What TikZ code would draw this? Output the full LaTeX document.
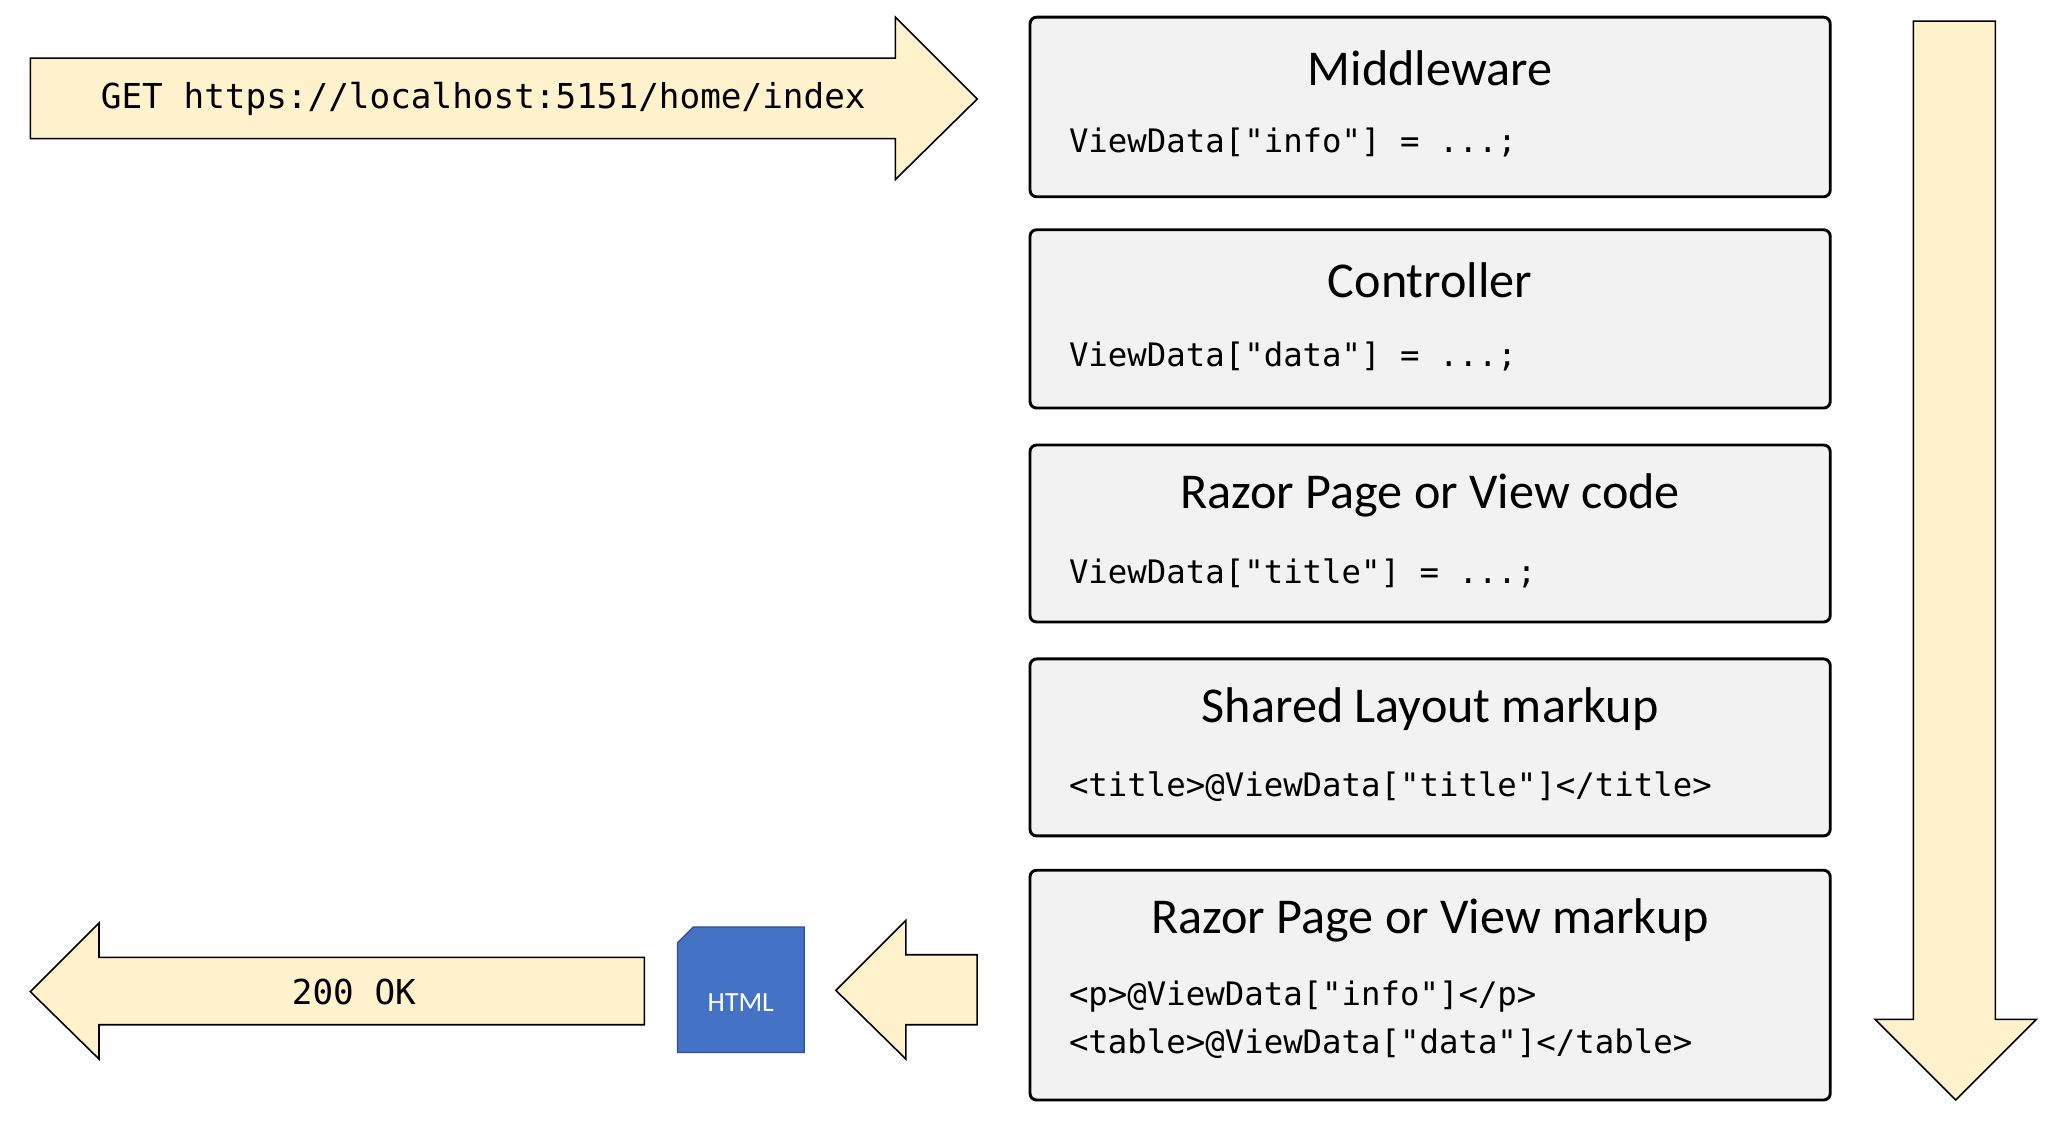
\documentclass[tikz,border=0pt]{standalone}
\usepackage{fontspec}
\setmainfont{Carlito}
\setmonofont{DejaVu Sans Mono}
\begin{document}
\begin{tikzpicture}[x=1pt,y=-1pt,
  arr/.style={fill=yellow!20!orange!8!white,fill=arrowfill,draw=black,line width=1.2pt,line join=miter},
  box/.style={fill=boxgray,draw=black,line width=2.2pt,rounded corners=5pt},
  ttl/.style={font=\fontsize{38}{44}\selectfont,anchor=center},
  code/.style={font=\fontsize{24.5}{36}\ttfamily,anchor=west,align=left}]
\definecolor{arrowfill}{HTML}{FFF2CC}
\definecolor{boxgray}{HTML}{F2F2F2}
\definecolor{htmlblue}{HTML}{4472C4}
\useasboundingbox (0,0) rectangle (1560,849);
% request arrow
\draw[arr] (23,44) -- (678,44) -- (678,13) -- (740,75) -- (678,136) -- (678,105) -- (23,105) -- cycle;
\node[font=\fontsize{26}{30}\ttfamily] (req) at (366,75) {GET https://localhost:5151/home/index};
% down arrow
\draw[arr] (1449,16) -- (1511,16) -- (1511,772) -- (1542,772) -- (1481,833) -- (1420,772) -- (1449,772) -- cycle;
% boxes
\draw[box] (780,13) rectangle (1386,149);
\draw[box] (780,174) rectangle (1386,309);
\draw[box] (780,337) rectangle (1386,471);
\draw[box] (780,499) rectangle (1386,633);
\draw[box] (780,659) rectangle (1386,833);
\node[ttl] (t1) at (1083,52) {Middleware};
\node[code] (c1) at (806,108) {ViewData["info"] = ...;};
\node[ttl] (t2) at (1083,212) {Controller};
\node[code] (c2) at (806,270) {ViewData["data"] = ...;};
\node[ttl] (t3) at (1083,375) {Razor Page or View code};
\node[code] (c3) at (806,434) {ViewData["title"] = ...;};
\node[ttl] (t4) at (1083,537) {Shared Layout markup};
\node[code] (c4) at (806,596) {<title>@ViewData["title"]</title>};
\node[ttl] (t5) at (1083,697) {Razor Page or View markup};
\node[code] (c5) at (806,755) {<p>@ViewData["info"]</p>};
\node[code] (c6) at (806,790) {<table>@ViewData["data"]</table>};
% small left arrow
\draw[arr] (740,723) -- (686,723) -- (686,697) -- (633,750) -- (686,802) -- (686,776) -- (740,776) -- cycle;
% html doc
\draw[fill=htmlblue,draw=htmlblue!70!black,line width=1pt] (525,702) -- (609,702) -- (609,797) -- (513,797) -- (513,714) -- cycle;
\node[text=white,font=\fontsize{21}{24}\selectfont] (html) at (561,759) {HTML};
% response arrow
\draw[arr] (488,725) -- (75,725) -- (75,699) -- (23,751) -- (75,802) -- (75,776) -- (488,776) -- cycle;
\node[font=\fontsize{26}{30}\ttfamily] (ok) at (268,751) {200 OK};
\end{tikzpicture}
\end{document}
